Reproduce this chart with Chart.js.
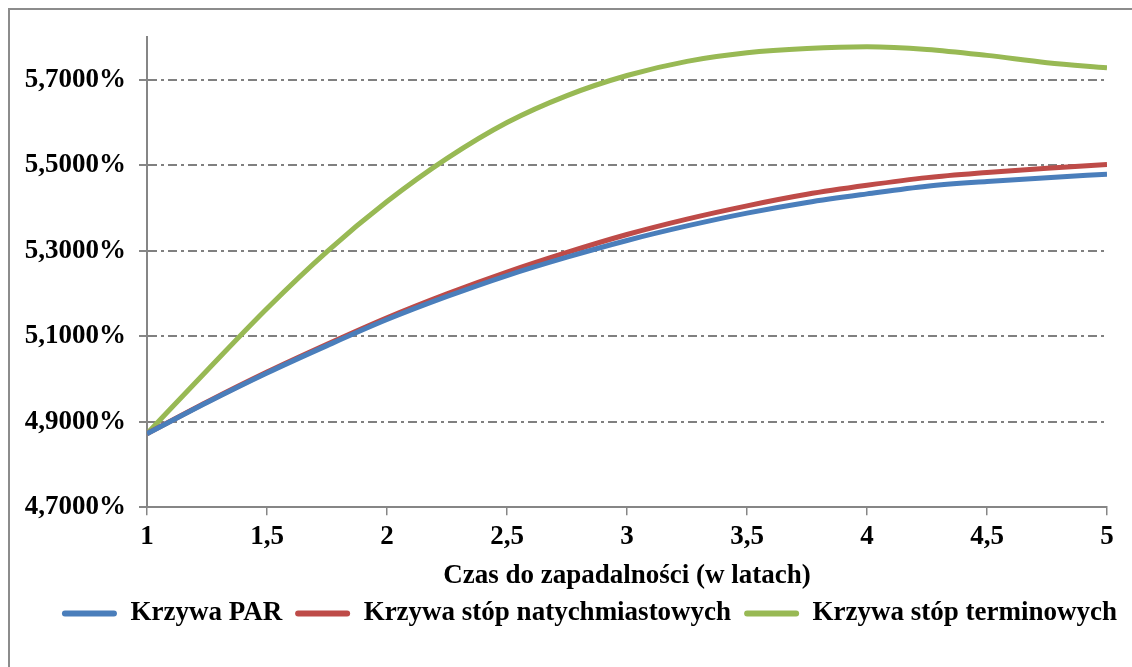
<!DOCTYPE html>
<html><head><meta charset="utf-8">
<script src="https://cdn.jsdelivr.net/npm/chart.js@4"></script>
<style>
html,body{margin:0;padding:0;background:#fff;overflow:hidden;width:1132px;height:667px;}
#frame{position:absolute;left:8px;top:8px;width:1220px;height:720px;border:2px solid #8c8c8c;}
#c{position:absolute;left:0;top:0;}
</style></head><body>
<div id="frame"><canvas id="c" width="1150" height="660"></canvas></div>
<script>
const xValues = [1, 1.25, 1.5, 1.75, 2, 2.25, 2.5, 2.75, 3, 3.25, 3.5, 3.75, 4, 4.25, 4.5, 4.75, 5];
const parCurve = [4.872, 4.945, 5.014, 5.078, 5.139, 5.193, 5.242, 5.285, 5.324, 5.358, 5.388, 5.413, 5.433, 5.451, 5.462, 5.471, 5.479];
const spotCurve = [4.872, 4.946, 5.016, 5.081, 5.143, 5.199, 5.250, 5.296, 5.338, 5.374, 5.405, 5.432, 5.453, 5.471, 5.483, 5.493, 5.502];
const forwardCurve = [4.872, 5.020, 5.165, 5.298, 5.415, 5.516, 5.600, 5.663, 5.710, 5.743, 5.763, 5.773, 5.777, 5.771, 5.757, 5.740, 5.728];
const seriesLabels = ['Krzywa PAR', 'Krzywa stóp natychmiastowych', 'Krzywa stóp terminowych'];
const xTicks = [1, 1.5, 2, 2.5, 3, 3.5, 4, 4.5, 5];
const yTicks = [4.7, 4.9, 5.1, 5.3, 5.5, 5.7];
const xTitle = 'Czas do zapadalności (w latach)';

const font = {family: '"Liberation Serif", "Times New Roman", serif', size: 27, weight: 'bold'};
const gray = '#868686';
const colors = ['#4a7ebb', '#be4b48', '#98b954'];
const series = [parCurve, spotCurve, forwardCurve];

const datasets = series.map((s, i) => ({
  label: seriesLabels[i],
  data: xValues.map((x, j) => ({x: x, y: s[j]})),
  borderColor: colors[i],
  backgroundColor: colors[i],
  borderWidth: 5,
  pointRadius: 0,
  cubicInterpolationMode: 'monotone',
  fill: false
}));

const legendShift = {
  id: 'legendShift',
  afterLayout(chart) {
    const lg = chart.legend;
    if (lg) { lg.left += 31; lg.right += 31; }
  }
};

new Chart(document.getElementById('c'), {
  type: 'line',
  data: {datasets: datasets},
  plugins: [legendShift],
  options: {
    responsive: false,
    devicePixelRatio: 1,
    animation: false,
    layout: {padding: {left: 0, right: 53, top: 27, bottom: 33}},
    plugins: {
      legend: {
        position: 'bottom',
        labels: {
          font: font, color: '#000', boxWidth: 55, boxHeight: 6, padding: 13,
          generateLabels: (chart) => Chart.defaults.plugins.legend.labels.generateLabels(chart)
            .map(l => Object.assign(l, {lineWidth: 0, borderRadius: 3}))
        }
      },
      tooltip: {enabled: false}
    },
    scales: {
      x: {
        type: 'linear', min: 1, max: 5,
        afterBuildTicks: s => { s.ticks = xTicks.map(v => ({value: v})); },
        ticks: {font: font, color: '#000', padding: 6, autoSkip: false, maxRotation: 0,
          callback: v => String(v).replace('.', ',')},
        grid: {drawOnChartArea: false, drawTicks: true, tickLength: 8, color: gray, lineWidth: 1.5},
        border: {color: gray, width: 2},
        title: {display: true, text: xTitle, font: font, color: '#000', padding: {top: 0.7, bottom: -5.7}}
      },
      y: {
        type: 'linear', min: 4.7, max: 5.8,
        afterBuildTicks: s => { s.ticks = yTicks.map(v => ({value: v})); },
        afterFit: s => { s.width = 137; s.paddingTop = 0; s.paddingBottom = 0; },
        ticks: {font: font, color: '#000', padding: 13,
          callback: v => v.toFixed(4).replace('.', ',') + '%'},
        grid: {color: '#808080', lineWidth: 2, tickBorderDash: [], tickColor: gray, tickLength: 8},
        border: {color: gray, width: 2, dash: [9, 4, 3, 4]}
      }
    }
  }
});
</script>
</body></html>
